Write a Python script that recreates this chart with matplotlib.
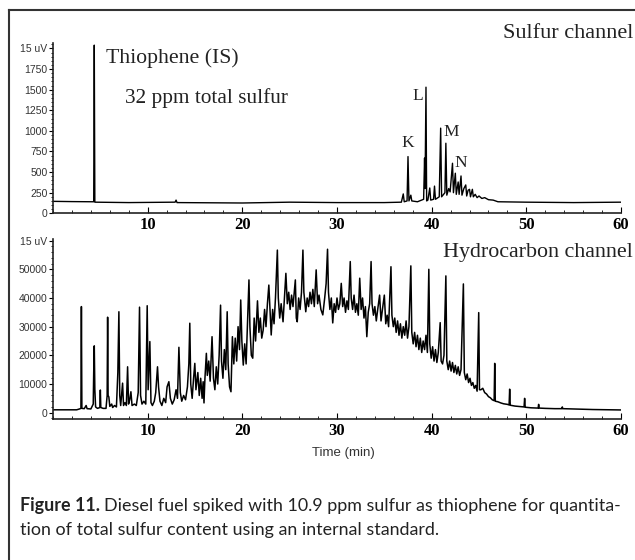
import matplotlib
matplotlib.use("Agg")
import matplotlib.pyplot as plt
from matplotlib.lines import Line2D
from matplotlib.ticker import MultipleLocator

# Sulfur channel trace: (time in min, signal)
sulfur_trace = [
    (0.0, 145), (2.0, 142), (4.2, 140), (4.3, 140), (4.36, 2040), (4.42, 135),
    (8.0, 130), (12.9, 135), (13.0, 160), (13.1, 130), (20.0, 125), (25.0, 135),
    (30.0, 130), (35.0, 130), (36.8, 135), (37.0, 235), (37.1, 140), (37.4, 150),
    (37.5, 688), (37.6, 150), (37.8, 220), (37.9, 150), (38.5, 140), (39.15, 170),
    (39.25, 670), (39.3, 300), (39.4, 1530), (39.47, 150), (39.6, 160), (39.8, 307),
    (39.9, 160), (40.2, 170), (40.3, 330), (40.4, 170), (40.8, 200), (40.95, 1033),
    (41.05, 200), (41.4, 250), (41.5, 850), (41.6, 220), (41.8, 300), (41.95, 260),
    (42.2, 607), (42.3, 250), (42.5, 486), (42.6, 230), (42.8, 380), (42.9, 230),
    (43.1, 453), (43.2, 220), (43.4, 300), (43.6, 344), (43.7, 210), (43.85, 280),
    (44.0, 291), (44.1, 200), (44.3, 291), (44.4, 200), (44.6, 230), (44.8, 190),
    (45.0, 210), (45.3, 180), (45.6, 190), (46.0, 165), (46.5, 160), (47.0, 140),
    (50.0, 135), (55.0, 130), (60.0, 135),
]

# Hydrocarbon channel trace, split in three stretches
hc_early = [
    (0.0, 1000), (2.5, 1000), (2.8, 1300), (2.95, 1500), (3.0, 37000), (3.05, 1500),
    (3.3, 1400), (3.5, 2500), (3.6, 1400), (4.0, 1300), (4.25, 3000), (4.3, 14000),
    (4.36, 23300), (4.42, 8000), (4.5, 2000), (4.7, 1500), (4.95, 1800), (5.0, 7900),
    (5.05, 1800), (5.3, 1500), (5.6, 1500), (5.72, 6000), (5.77, 33300), (5.82, 6000),
    (5.9, 5500), (6.0, 2200), (6.2, 3000), (6.3, 1800), (6.5, 2500), (6.7, 2000),
    (6.85, 14000), (6.96, 35200), (7.05, 6000), (7.15, 2500), (7.35, 10300), (7.45, 2500),
    (7.6, 3500), (7.75, 2500), (7.88, 16000), (7.98, 3000), (8.1, 4500), (8.23, 7300),
    (8.35, 2500), (8.6, 3000), (8.8, 2500), (9.0, 7000), (9.14, 36800), (9.25, 6000),
    (9.4, 3000), (9.6, 4000), (9.8, 3000), (9.95, 37300), (10.05, 8000), (10.23, 24800),
    (10.35, 3500), (10.5, 2500), (10.7, 4000), (10.85, 7000), (11.04, 16000), (11.15, 9000),
    (11.3, 4000), (11.5, 2500), (11.7, 5000), (11.9, 3500), (12.05, 9000), (12.24, 10800),
    (12.4, 5000), (12.6, 3000), (12.8, 4500), (13.0, 8000), (13.15, 5000), (13.3, 22800),
    (13.45, 7000), (13.6, 4000), (13.8, 6000), (14.0, 4500), (14.2, 9000), (14.35, 17000),
    (14.45, 31200), (14.55, 10000), (14.7, 5000), (14.85, 12000), (14.98, 17200), (15.1, 8000),
]
hc_hump = [
    (15.3, 14000), (15.45, 6000), (15.6, 12000), (15.75, 5000), (15.86, 10800), (15.95, 3400),
    (16.05, 12000), (16.2, 20700), (16.3, 13000), (16.45, 18000), (16.6, 11000), (16.8, 26500),
    (16.95, 12000), (17.1, 8000), (17.25, 16000), (17.4, 10000), (17.55, 20000), (17.7, 37500),
    (17.8, 18000), (17.95, 12000), (18.1, 22000), (18.25, 15000), (18.4, 35200), (18.5, 17000),
    (18.65, 9000), (18.8, 7300), (18.95, 26500), (19.1, 17000), (19.25, 26000), (19.4, 18000),
    (19.55, 30000), (19.7, 22000), (19.83, 39300), (19.95, 25000), (20.1, 16600), (20.25, 24000),
    (20.4, 17000), (20.55, 32000), (20.7, 46300), (20.8, 30000), (20.95, 20000), (21.1, 19000),
    (21.25, 33000), (21.4, 25000), (21.6, 39000), (21.75, 28000), (21.9, 33000), (22.05, 26000),
    (22.2, 28800), (22.35, 36000), (22.5, 30000), (22.65, 38000), (22.8, 44500), (22.95, 34000),
    (23.05, 27100), (23.2, 36000), (23.35, 31000), (23.5, 40000), (23.7, 56700), (23.8, 40000),
    (23.95, 33000), (24.1, 38000), (24.3, 31700), (24.45, 40000), (24.6, 48600), (24.75, 38000),
    (24.9, 42000), (25.05, 36000), (25.2, 41000), (25.35, 37000), (25.6, 46300), (25.7, 33000),
    (25.8, 31700), (25.95, 40000), (26.1, 36000), (26.25, 42000), (26.4, 56700), (26.5, 42000),
    (26.7, 35200), (26.85, 40000), (27.0, 37000), (27.15, 42000), (27.3, 38000), (27.45, 43000),
    (27.6, 37000), (27.8, 49800), (27.95, 38000), (28.1, 41000), (28.3, 36000), (28.5, 34100),
    (28.7, 40000), (28.85, 45000), (29.0, 57000), (29.1, 42000), (29.25, 36000), (29.4, 40000),
    (29.55, 31300), (29.7, 38000), (29.85, 35000), (30.0, 40000), (30.15, 36000), (30.3, 38000),
    (30.45, 45100), (30.6, 37000), (30.75, 40000), (30.9, 35000), (31.05, 39000), (31.2, 36000),
    (31.4, 52700), (31.5, 40000), (31.65, 36000), (31.8, 41000), (31.95, 35000), (32.1, 38000),
    (32.25, 34000), (32.4, 46900), (32.55, 36000), (32.7, 40000), (32.85, 33000), (33.0, 37000),
    (33.15, 26500), (33.3, 35000), (33.45, 38000), (33.6, 52700), (33.7, 38000), (33.85, 34000),
    (34.0, 37000), (34.15, 32000), (34.3, 36000), (34.5, 41000), (34.65, 32000), (34.8, 36000),
    (35.0, 41000), (35.15, 31000), (35.3, 34000), (35.45, 30000), (35.7, 50900), (35.8, 34000),
    (35.95, 30000), (36.1, 33000), (36.25, 28000), (36.4, 32000), (36.55, 27000), (36.7, 31000),
    (36.85, 26000), (37.0, 30000), (37.15, 27000), (37.3, 32000), (37.45, 26000), (37.6, 30000),
    (37.8, 51200), (37.9, 28000), (38.05, 24000), (38.2, 28000), (38.35, 23000), (38.5, 27000),
    (38.65, 22000), (38.8, 26000), (38.95, 21000), (39.1, 25000), (39.25, 22000), (39.4, 27000),
    (39.55, 21000), (39.7, 50000), (39.8, 24000), (39.95, 19000), (40.1, 23000), (40.25, 18000),
    (40.4, 22000), (40.55, 17500), (40.7, 21000), (40.9, 31400), (41.0, 18000), (41.15, 17000),
    (41.3, 20000), (41.5, 47700), (41.6, 18000), (41.75, 15000), (41.9, 18000), (42.05, 14500),
    (42.2, 17500), (42.35, 14000), (42.5, 16500), (42.65, 13500), (42.8, 16000), (42.95, 13000),
    (43.1, 15000), (43.35, 44900), (43.45, 14000), (43.6, 11500), (43.75, 13500), (43.9, 10500),
    (44.05, 12000), (44.2, 9500), (44.35, 10500), (44.5, 8500), (44.65, 9500), (44.8, 7500),
]
hc_tail = [
    (44.97, 34900), (45.05, 8000), (45.2, 8000), (45.4, 8500), (45.6, 7000), (45.8, 6500),
    (46.0, 5600), (46.2, 5200), (46.4, 4500), (46.6, 4200), (46.66, 17200), (46.72, 4000),
    (47.0, 3800), (47.3, 3400), (47.6, 3100), (48.0, 2900), (48.18, 2700), (48.24, 8200),
    (48.3, 2600), (48.8, 2300), (49.5, 2100), (49.76, 2000), (49.82, 5000), (49.88, 1900),
    (50.5, 1700), (51.25, 1600), (51.3, 2900), (51.35, 1600), (52.0, 1500), (53.0, 1400),
    (53.75, 1400), (53.8, 2000), (53.85, 1400), (55.0, 1300), (57.0, 1100), (60.0, 950),
]

peak_names = ["K", "L", "M", "N"]
peak_name_time = [37.5, 38.55, 42.1, 43.1]
peak_name_level = [850, 1420, 990, 615]

x_ticks = [10, 20, 30, 40, 50, 60]
top_y_ticks = [0, 250, 500, 750, 1000, 1250, 1500, 1750, 2000]
top_y_labels = ["0", "250", "500", "750", "1000", "1250", "1500", "1750", "15 uV"]
bottom_y_ticks = [0, 10000, 20000, 30000, 40000, 50000, 60000]
bottom_y_labels = ["0", "10000", "20000", "30000", "40000", "50000", "15 uV"]

SERIF = "Liberation Serif"
SANS = "Liberation Sans"
W, H = 635, 560

fig = plt.figure(figsize=(W / 100, H / 100), dpi=100)


def frac(x, y):
    # pixel position (from top left) -> figure fraction
    return x / W, 1 - y / H


def style_axis(ax, yticks, ylabels):
    for side in ("top", "right"):
        ax.spines[side].set_visible(False)
    for side in ("left", "bottom"):
        ax.spines[side].set_linewidth(1.2)
        ax.spines[side].set_color("#222222")
    ax.set_xlim(0, 60)
    ax.set_xticks(x_ticks)
    ax.set_xticklabels([str(t) for t in x_ticks], fontfamily=SERIF,
                       fontweight="bold", fontsize=12)
    ax.xaxis.set_minor_locator(MultipleLocator(2))
    ax.tick_params(axis="x", which="major", direction="in", length=4, pad=3)
    ax.tick_params(axis="x", which="minor", direction="in", length=2)
    ax.set_yticks(yticks)
    ax.set_yticklabels(ylabels, fontfamily=SANS, fontsize=7.5, color="#333333")
    ax.yaxis.set_minor_locator(MultipleLocator(yticks[1] / 5))
    ax.tick_params(axis="y", which="major", direction="out", length=3, pad=1)
    ax.tick_params(axis="y", which="minor", direction="out", length=1.5)


# top panel: sulfur channel
ax1 = fig.add_axes([53 / W, 1 - 213.3 / H, 568 / W, (213.3 - 43) / H])
s_t = [p[0] for p in sulfur_trace]
s_v = [p[1] for p in sulfur_trace]
ax1.plot(s_t, s_v, color="black", lw=1.0)
ax1.set_ylim(0, 2066)
style_axis(ax1, top_y_ticks, top_y_labels)

ax1.text(5.6, 1883, "Thiophene (IS)", fontfamily=SERIF, fontsize=15.7,
         va="center", ha="left", color="#222222")
ax1.text(7.6, 1397, "32 ppm total sulfur", fontfamily=SERIF, fontsize=15.3,
         va="center", ha="left", color="#222222")
for name, t, lvl in zip(peak_names, peak_name_time, peak_name_level):
    ax1.text(t, lvl, name, fontfamily=SERIF, fontsize=12.5, ha="center",
             va="center", color="#222222")

# bottom panel: hydrocarbon channel
ax2 = fig.add_axes([53 / W, 1 - 418.7 / H, 568 / W, (418.7 - 239.2) / H])
hc_all = hc_early + hc_hump + hc_tail
ax2.plot([p[0] for p in hc_all], [p[1] for p in hc_all], color="black", lw=1.1)
ax2.set_ylim(-2100, 60500)
style_axis(ax2, bottom_y_ticks, bottom_y_labels)

# channel titles and axis label
fig.text(*frac(633, 33), "Sulfur channel", fontfamily=SERIF, fontsize=16,
         ha="right", va="center", color="#222222")
fig.text(*frac(633, 253), "Hydrocarbon channel", fontfamily=SERIF, fontsize=15.8,
         ha="right", va="center", color="#222222")
fig.text(*frac(343, 453), "Time (min)", fontfamily=SANS, fontsize=9.5,
         ha="center", va="center", color="#333333")

# frame lines (left and top)
fig.add_artist(Line2D([9 / W, 9 / W], [0, 1 - 10 / H], transform=fig.transFigure,
                      color="#333333", lw=1.5))
fig.add_artist(Line2D([9 / W, 1], [1 - 10 / H, 1 - 10 / H], transform=fig.transFigure,
                      color="#333333", lw=1.5))

# caption
cap_font = "Lato"
cap_size = 12.9
first = fig.text(*frac(20, 511), "Figure 11.", fontfamily=cap_font, fontsize=cap_size,
                 fontweight="bold", ha="left", va="baseline", color="#222222")
fig.canvas.draw()
bb = first.get_window_extent()
fig.text((bb.x1 + 4) / W, 1 - 511 / H,
         "Diesel fuel spiked with 10.9 ppm sulfur as thiophene for quantita-",
         fontfamily=cap_font, fontsize=cap_size, ha="left", va="baseline", color="#222222")
fig.text(*frac(20, 535), "tion of total sulfur content using an internal standard.",
         fontfamily=cap_font, fontsize=cap_size, ha="left", va="baseline", color="#222222")

fig.savefig("out.png", dpi=100)
